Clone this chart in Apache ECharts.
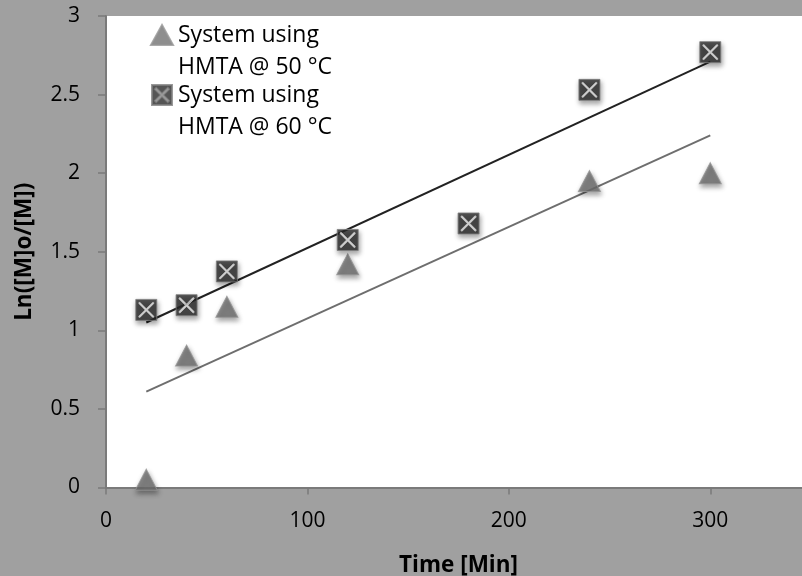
<!DOCTYPE html>
<html>
<head>
<meta charset="utf-8">
<script src="https://cdn.jsdelivr.net/npm/echarts@6/dist/echarts.min.js"></script>
<style>html,body{margin:0;padding:0;background:#a0a0a0;}#c{width:802px;height:576px;}</style>
</head>
<body>
<div id="c"></div>
<script>
// Data
const time50 = [20, 40, 60, 120, 240, 300];
const ln50   = [0.05, 0.84, 1.15, 1.42, 1.95, 2.00];
const time60 = [20, 40, 60, 120, 180, 240, 300];
const ln60   = [1.13, 1.16, 1.375, 1.575, 1.68, 2.53, 2.77];
// Linear trendline end points
const trend50X = [20, 300];
const trend50Y = [0.61, 2.24];
const trend60X = [20, 300];
const trend60Y = [1.05, 2.71];
const name50 = 'System using\nHMTA @ 50 °C';
const name60 = 'System using\nHMTA @ 60 °C';
const xTickLabels = [0, 100, 200, 300];

const zip = (xs, ys) => xs.map((x, i) => [x, ys[i]]);
const FONT = 'Open Sans';

// square with an X cut out (used for the marker base and legend icon)
const squareX = 'path://M0,0H20V20H0Z' +
  'M3,4.2L8.8,10L3,15.8L4.2,17L10,11.2L15.8,17L17,15.8L11.2,10L17,4.2L15.8,3L10,8.8L4.2,3Z';

const chart = echarts.init(document.getElementById('c'), null, {renderer: 'canvas'});
chart.setOption({
  backgroundColor: '#a0a0a0',
  animation: false,
  textStyle: {fontFamily: FONT},
  grid: {
    left: 106, top: 16, width: 705, height: 471.5,
    outerBoundsMode: 'none', containLabel: false,
    show: true, backgroundColor: '#ffffff', borderWidth: 0
  },
  legend: {
    left: 150, top: -13, padding: 0,
    orient: 'vertical',
    itemWidth: 22, itemHeight: 20, itemGap: -36,
    data: [
      {name: name50, icon: 'triangle'},
      {name: name60, icon: squareX}
    ],
    formatter: n => '\n' + n,
    textStyle: {fontFamily: FONT, fontSize: 23, color: '#000', lineHeight: 32}
  },
  xAxis: {
    type: 'value', min: 0, max: 350, interval: 100,
    name: 'Time [Min]', nameLocation: 'middle', nameGap: 67,
    nameTextStyle: {fontFamily: FONT, fontSize: 22.5, fontWeight: 'bold', color: '#000'},
    axisLine: {show: true, lineStyle: {color: '#7a7a7a', width: 2}},
    axisTick: {show: true, length: 7, lineStyle: {color: '#7a7a7a', width: 1.5}},
    axisLabel: {
      fontFamily: FONT, fontSize: 21, color: '#000', margin: 23,
      formatter: v => (xTickLabels.indexOf(v) >= 0 ? String(v) : '')
    },
    splitLine: {show: false}
  },
  yAxis: {
    type: 'value', min: 0, max: 3, interval: 0.5,
    name: 'Ln([M]o/[M])', nameLocation: 'middle', nameGap: 70,
    nameTextStyle: {fontFamily: FONT, fontSize: 22.5, fontWeight: 'bold', color: '#000'},
    axisLine: {show: true, lineStyle: {color: '#7a7a7a', width: 2}},
    axisTick: {show: true, length: 8, lineStyle: {color: '#7a7a7a', width: 1.5}},
    axisLabel: {fontFamily: FONT, fontSize: 21, color: '#000', margin: 26},
    splitLine: {show: false}
  },
  series: [
    {
      type: 'line', data: zip(trend50X, trend50Y), symbol: 'none', silent: true, z: 2,
      lineStyle: {color: '#6e6e6e', width: 2}
    },
    {
      type: 'line', data: zip(trend60X, trend60Y), symbol: 'none', silent: true, z: 2,
      lineStyle: {color: '#222222', width: 2}
    },
    {
      name: name50, type: 'scatter', data: zip(time50, ln50), z: 4,
      symbol: 'triangle', symbolSize: [22, 21],
      itemStyle: {
        color: '#727272', borderColor: '#959595', borderWidth: 1,
        shadowBlur: 5, shadowColor: 'rgba(0,0,0,0.45)', shadowOffsetY: 3, shadowOffsetX: 1
      }
    },
    {
      name: name60, type: 'scatter', data: zip(time60, ln60), z: 4,
      symbol: squareX, symbolSize: 21,
      itemStyle: {
        color: '#2b2b2b', borderColor: '#808080', borderWidth: 1,
        shadowBlur: 5, shadowColor: 'rgba(0,0,0,0.45)', shadowOffsetY: 3, shadowOffsetX: 1
      }
    },
    {
      type: 'scatter', data: zip(time60, ln60), z: 5, silent: true,
      symbol: 'path://M3,3L17,17M17,3L3,17', symbolSize: 15,
      itemStyle: {color: 'rgba(0,0,0,0)', borderColor: '#d6d6d6', borderWidth: 2}
    }
  ]
});
</script>
</body>
</html>
